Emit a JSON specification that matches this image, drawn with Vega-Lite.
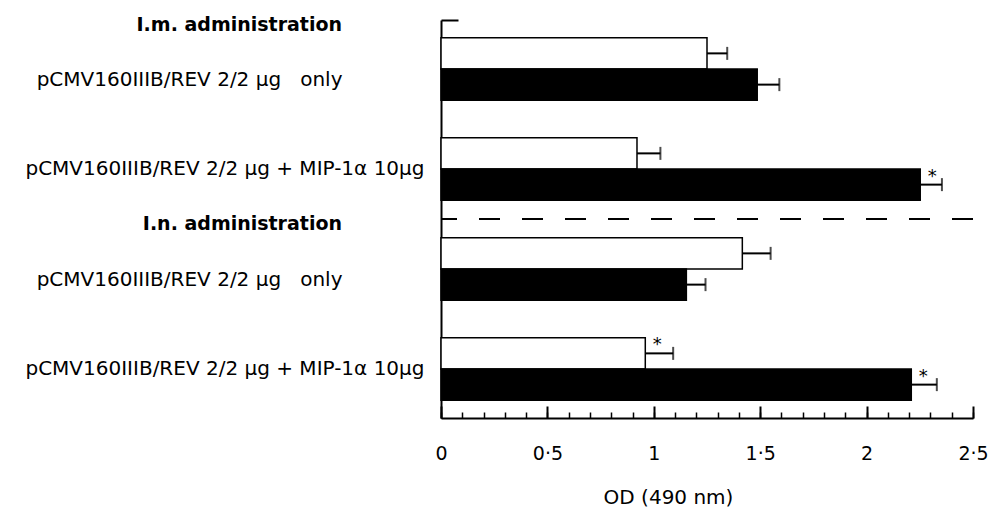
{
  "$schema": "https://vega.github.io/schema/vega-lite/v6.json",
  "autosize": "none",
  "padding": {"left": 441, "top": 20, "right": 18, "bottom": 89},
  "width": 532,
  "height": 398,
  "background": "white",
  "config": {"view": {"stroke": null}, "font": "DejaVu Sans"},
  "datasets": {
    "bars": [
      {"grp": "im_only", "series": "A", "od": 1.25, "hi": 1.345, "sig": ""},
      {"grp": "im_only", "series": "B", "od": 1.486, "hi": 1.59, "sig": ""},
      {"grp": "im_mip", "series": "A", "od": 0.921, "hi": 1.031, "sig": ""},
      {"grp": "im_mip", "series": "B", "od": 2.252, "hi": 2.354, "sig": "*"},
      {"grp": "in_only", "series": "A", "od": 1.416, "hi": 1.549, "sig": ""},
      {"grp": "in_only", "series": "B", "od": 1.153, "hi": 1.243, "sig": ""},
      {"grp": "in_mip", "series": "A", "od": 0.96, "hi": 1.091, "sig": "*"},
      {"grp": "in_mip", "series": "B", "od": 2.21, "hi": 2.33, "sig": "*"}
    ],
    "headers": [
      {"grp": "im_only", "text": "I.m. administration"},
      {"grp": "in_only", "text": "I.n. administration"}
    ],
    "divider": [{"pos": 0.5}]
  },
  "layer": [
    {
      "data": {"name": "bars"},
      "mark": {"type": "bar", "stroke": "black", "strokeWidth": 1.5},
      "encoding": {
        "y": {
          "field": "grp", "type": "nominal", "sort": null,
          "scale": {"domain": ["im_only", "im_mip", "in_only", "in_mip"], "paddingInner": 0.375, "paddingOuter": 0.1775},
          "axis": {
            "orient": "left",
            "title": null, "ticks": false, "domain": true, "domainColor": "black", "domainWidth": 2,
            "labelFont": "DejaVu Sans", "labelFontSize": 20, "labelColor": "black", "labelAlign": "right",
            "labelLimit": 600,
            "labelPadding": {"condition": {"test": "indexof(datum.value, 'only') >= 0", "value": 99}, "value": 17},
            "labelOffset": {"condition": {"test": "indexof(datum.value, 'only') >= 0", "value": 11}, "value": 0},
            "labelExpr": "indexof(datum.value, 'mip') >= 0 ? 'pCMV160IIIB/REV 2/2 μg + MIP-1α 10μg' : 'pCMV160IIIB/REV 2/2 μg\u00a0\u00a0\u00a0only'"
          }
        },
        "yOffset": {"field": "series", "type": "nominal", "scale": {"domain": ["A", "B"], "paddingInner": 0, "paddingOuter": 0}},
        "x": {
          "field": "od", "type": "quantitative",
          "scale": {"domain": [0, 2.5], "nice": false, "zero": true},
          "axis": {
            "orient": "bottom",
            "values": [0, 0.5, 1, 1.5, 2, 2.5], "tickSize": -12, "tickWidth": 2, "tickColor": "black",
            "domainColor": "black", "domainWidth": 2, "grid": false,
            "labelExpr": "replace(toString(datum.value), '.', '·')",
            "labelFont": "DejaVu Sans", "labelFontSize": 19, "labelColor": "black", "labelPadding": 38,
            "labelFlush": false, "labelOverlap": false,
            "title": "OD (490 nm)", "titleFont": "DejaVu Sans", "titleFontSize": 20, "titleFontWeight": "normal",
            "titleColor": "black", "titleX": 227, "titleY": 85, "titleAlign": "center", "titleBaseline": "alphabetic"
          }
        },
        "color": {"field": "series", "type": "nominal", "scale": {"domain": ["A", "B"], "range": ["white", "black"]}, "legend": null}
      }
    },
    {
      "data": {"name": "bars"},
      "mark": {"type": "rule", "color": "black", "strokeWidth": 2},
      "encoding": {
        "y": {"field": "grp", "type": "nominal", "sort": null, "scale": {"domain": ["im_only", "im_mip", "in_only", "in_mip"], "paddingInner": 0.375, "paddingOuter": 0.1775}, "axis": null},
        "yOffset": {"field": "series", "type": "nominal", "scale": {"domain": ["A", "B"], "paddingInner": 0, "paddingOuter": 0}},
        "x": {
          "field": "od", "type": "quantitative",
          "axis": {
            "orient": "bottom",
            "values": [0, 0.1, 0.2, 0.3, 0.4, 0.5, 0.6, 0.7, 0.8, 0.9, 1, 1.1, 1.2, 1.3, 1.4, 1.5, 1.6, 1.7, 1.8, 1.9, 2, 2.1, 2.2, 2.3, 2.4, 2.5],
            "tickSize": -6, "tickWidth": 1.5, "tickColor": "black", "labels": false, "domain": false, "title": null, "grid": false
          }
        },
        "x2": {"field": "hi"}
      }
    },
    {
      "data": {"name": "bars"},
      "mark": {"type": "tick", "color": "black", "thickness": 2, "size": 13, "orient": "vertical"},
      "encoding": {
        "y": {"field": "grp", "type": "nominal", "sort": null, "scale": {"domain": ["im_only", "im_mip", "in_only", "in_mip"], "paddingInner": 0.375, "paddingOuter": 0.1775}, "axis": null},
        "yOffset": {"field": "series", "type": "nominal", "scale": {"domain": ["A", "B"], "paddingInner": 0, "paddingOuter": 0}},
        "x": {"field": "hi", "type": "quantitative", "axis": null}
      }
    },
    {
      "data": {"name": "bars"},
      "mark": {"type": "text", "color": "black", "fontSize": 18, "align": "center", "baseline": "alphabetic", "dx": 12, "dy": -3},
      "encoding": {
        "y": {"field": "grp", "type": "nominal", "sort": null, "scale": {"domain": ["im_only", "im_mip", "in_only", "in_mip"], "paddingInner": 0.375, "paddingOuter": 0.1775}, "axis": null},
        "yOffset": {"field": "series", "type": "nominal", "scale": {"domain": ["A", "B"], "paddingInner": 0, "paddingOuter": 0}},
        "x": {"field": "od", "type": "quantitative", "axis": null},
        "text": {"field": "sig"}
      }
    },
    {
      "data": {"name": "headers"},
      "mark": {"type": "text", "color": "black", "fontSize": 19, "fontWeight": "bold", "align": "right", "baseline": "middle", "dx": -99, "dy": -45},
      "encoding": {
        "y": {"field": "grp", "type": "nominal", "sort": null, "scale": {"domain": ["im_only", "im_mip", "in_only", "in_mip"], "paddingInner": 0.375, "paddingOuter": 0.1775}, "axis": null},
        "x": {"datum": 0, "type": "quantitative", "axis": null},
        "text": {"field": "text"}
      }
    },
    {
      "data": {"name": "divider"},
      "mark": {"type": "rule", "color": "black", "strokeWidth": 2, "strokeDash": [21, 22]},
      "encoding": {
        "y": {
          "field": "pos", "type": "quantitative", "scale": {"domain": [0, 1], "nice": false, "zero": false},
          "axis": {"orient": "left", "values": [1], "tickSize": -17, "tickWidth": 2, "tickColor": "black", "labels": false, "domain": false, "title": null, "grid": false}
        }
      }
    }
  ],
  "resolve": {"scale": {"y": "independent"}, "axis": {"x": "independent", "y": "independent"}}
}
